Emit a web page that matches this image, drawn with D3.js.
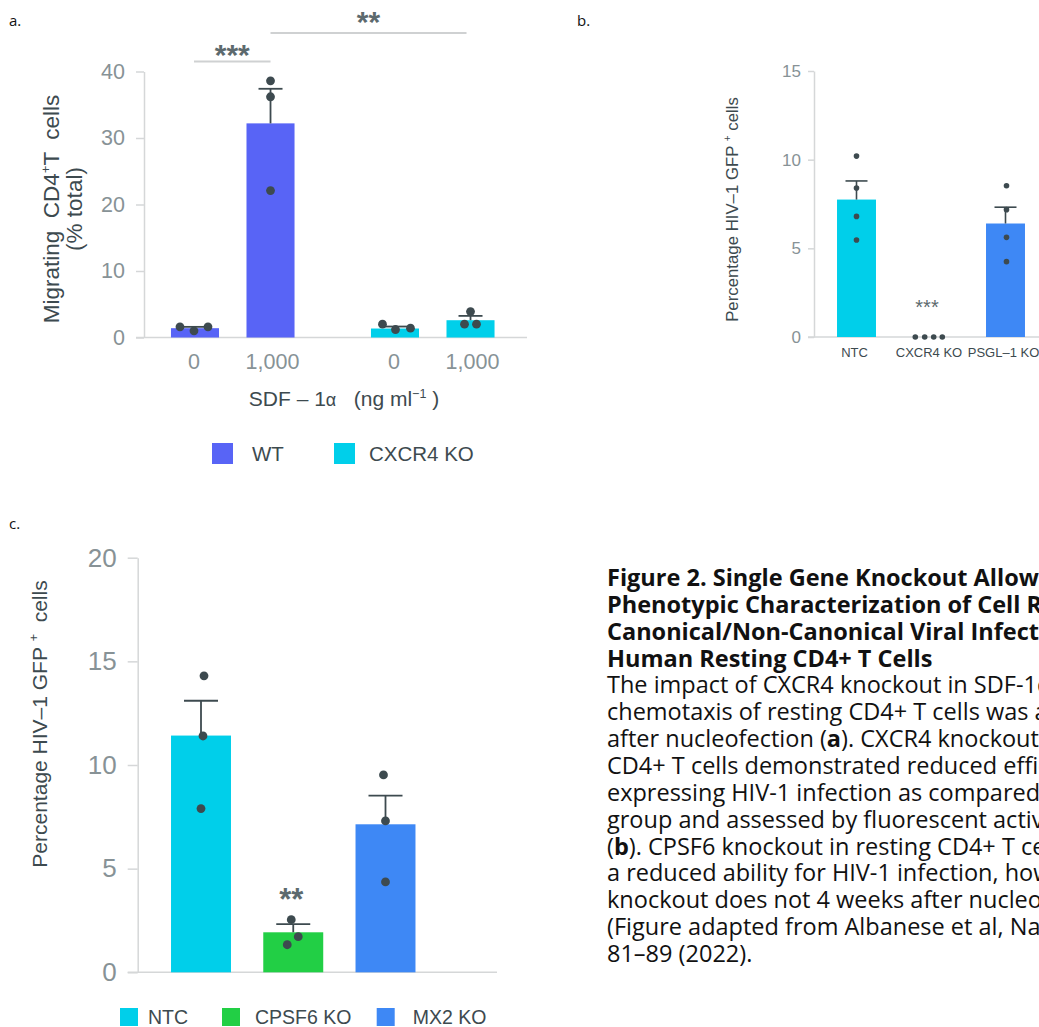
<!DOCTYPE html>
<html><head><meta charset="utf-8">
<script src="https://cdn.jsdelivr.net/npm/d3@7"></script>
<style>
body{margin:0;background:#fff;overflow:hidden;}
svg{display:block;}
text{white-space:pre;}
</style></head><body>
<svg id="chart" width="1039" height="1027"></svg>
<script>
// ---------------- data ----------------
// Panel a: migration assay
const aGenotypes = ["WT", "CXCR4 KO"];
const aDoses = ["0", "1,000"];
const aMeans = [[1.4, 32.2], [1.35, 2.6]];
const aSems = [[0.2, 5.2], [0.3, 0.65]];
const aPoints = [[[1.6, 1.0, 1.6], [38.6, 36.2, 22.1]], [[2.0, 1.2, 1.4], [3.9, 2.0, 2.0]]];
const aTicks = [0, 10, 20, 30, 40];

// Panel b
const bCategories = ["NTC", "CXCR4 KO", "PSGL\u20131 KO"];
const bMeans = [7.75, 0, 6.4];
const bSems = [1.05, 0, 0.92];
const bPoints = [[10.2, 8.4, 6.8, 5.47], [0, 0, 0, 0], [8.53, 7.18, 5.62, 4.25]];
const bTicks = [0, 5, 10, 15];

// Panel c
const cCategories = ["NTC", "CPSF6 KO", "MX2 KO"];
const cMeans = [11.42, 1.93, 7.14];
const cSems = [1.68, 0.39, 1.38];
const cPoints = [[14.3, 11.4, 7.9], [2.54, 1.72, 1.33], [9.52, 7.3, 4.36]];
const cTicks = [0, 5, 10, 15, 20];

// Caption
const captionTitle = [
  "Figure 2. Single Gene Knockout Allows",
  "Phenotypic Characterization of Cell Response to",
  "Canonical/Non-Canonical Viral Infection in",
  "Human Resting CD4+ T Cells"
];
const captionBody = [
  [["The impact of CXCR4 knockout in SDF-1\u03b1-induced", false]],
  [["chemotaxis of resting CD4+ T cells was assessed", false]],
  [["after nucleofection (", false], ["a", true], ["). CXCR4 knockout in resting", false]],
  [["CD4+ T cells demonstrated reduced efficiency of GFP-", false]],
  [["expressing HIV-1 infection as compared to the NTC", false]],
  [["group and assessed by fluorescent activated cell sorting", false]],
  [["(", false], ["b", true], ["). CPSF6 knockout in resting CD4+ T cells shows", false]],
  [["a reduced ability for HIV-1 infection, however MX2", false]],
  [["knockout does not 4 weeks after nucleofection.", false]],
  [["(Figure adapted from Albanese et al, Nature 602,", false]],
  [["81\u201389 (2022).", false]]
];

// ---------------- style / layout ----------------
const FONT = "'Liberation Sans', Arial, Helvetica, sans-serif";
const CAPFONT = "'Open Sans', sans-serif";
const DARK = "#3d4a4f";
const TICKC = "#879296";
const AXISC = "#d5d7d8";
const STARC = "#5d6a6e";
const colWT = "#5864F6", colKO = "#00CFEA", colGreen = "#22CF45", colBlue = "#3E88F5";
const aColors = [colWT, colKO];
const bColors = [colKO, colKO, colBlue];
const cColors = [colKO, colGreen, colBlue];

const aJitter = [[[-15, -1, 13], [0, 0, 0]], [[-12.5, 0.5, 15.5], [0, -6, 6]]];
const bJitter = [[0, 0, 0, 0], [-15.7, -6.3, 2.7, 11.3], [1, 1, 1, 1]];
const cJitter = [[3, 2, 0], [-2, 5, -6], [-2, 0, 0]];

const svg = d3.select("#chart");

function drawYAxis(g, y, ticks, x, tickLen, pad, fs, bx0, bx1) {
  const ax = g.append("g").attr("transform", `translate(${x},0)`)
    .call(d3.axisLeft(y).tickValues(ticks).tickSize(tickLen).tickSizeOuter(0).tickPadding(pad));
  ax.select(".domain").attr("stroke", AXISC).attr("stroke-width", 1.5);
  ax.selectAll(".tick line").attr("stroke", AXISC).attr("stroke-width", 1.5);
  ax.selectAll(".tick text").attr("fill", TICKC).attr("font-size", fs).attr("font-family", FONT);
  g.append("line").attr("x1", bx0).attr("x2", bx1).attr("y1", y(0)).attr("y2", y(0))
    .attr("stroke", AXISC).attr("stroke-width", 1.5);
}

function drawBars(g, items, y, capW, r, strokeW) {
  g.selectAll(null).data(items).join("rect")
    .attr("x", d => d.x).attr("width", d => d.w)
    .attr("y", d => y(d.mean)).attr("height", d => y(0) - y(d.mean))
    .attr("fill", d => d.color);
  const eb = items.filter(d => d.sem > 0);
  g.selectAll(null).data(eb).join("line")
    .attr("x1", d => d.x + d.w / 2).attr("x2", d => d.x + d.w / 2)
    .attr("y1", d => y(d.mean)).attr("y2", d => y(d.mean + d.sem))
    .attr("stroke", DARK).attr("stroke-width", strokeW);
  g.selectAll(null).data(eb).join("line")
    .attr("x1", d => d.x + d.w / 2 - capW / 2).attr("x2", d => d.x + d.w / 2 + capW / 2)
    .attr("y1", d => y(d.mean + d.sem)).attr("y2", d => y(d.mean + d.sem))
    .attr("stroke", DARK).attr("stroke-width", strokeW);
  items.forEach(d => {
    g.selectAll(null).data(d.pts).join("circle")
      .attr("cx", (v, i) => d.x + d.w / 2 + d.jit[i])
      .attr("cy", v => y(v)).attr("r", r).attr("fill", DARK);
  });
}

// ---------------- panel labels ----------------
[["a.", 9, 26], ["b.", 577, 26], ["c.", 9, 529]].forEach(([t, x, y]) =>
  svg.append("text").attr("x", x).attr("y", y).text(t)
    .attr("font-family", CAPFONT).attr("font-size", 15).attr("fill", "#111"));

// ---------------- panel a ----------------
{
  const g = svg.append("g");
  const y = d3.scaleLinear().domain([0, 40]).range([337.5, 71.5]);
  const outer = d3.scaleBand().domain(aGenotypes).range([132.75, 532.75]);
  const inner = d3.scaleBand().domain(aDoses).range([0, outer.bandwidth()]).paddingInner(0.364).paddingOuter(0.506);
  drawYAxis(g, y, aTicks, 144, 8, 11, 21.5, 136, 527);
  const items = [];
  aGenotypes.forEach((gt, gi) => aDoses.forEach((ds, di) => items.push({
    x: outer(gt) + inner(ds), w: inner.bandwidth(), mean: aMeans[gi][di], sem: aSems[gi][di],
    color: aColors[gi], pts: aPoints[gi][di], jit: aJitter[gi][di], dose: ds
  })));
  drawBars(g, items, y, 24, 4.4, 1.8);
  g.selectAll(null).data(items).join("text")
    .attr("x", d => d.x + d.w / 2 + (d.dose === "0" ? -1 : 2)).attr("y", 369)
    .attr("text-anchor", "middle").attr("font-family", FONT).attr("font-size", 21.5)
    .attr("fill", TICKC).text(d => d.dose);
  // x title
  const xt = g.append("text").attr("x", 344).attr("y", 406).attr("text-anchor", "middle")
    .attr("font-family", FONT).attr("font-size", 21).attr("fill", DARK);
  xt.append("tspan").text("SDF \u2013 1");
  xt.append("tspan").attr("font-size", 18).text("\u03b1");
  xt.append("tspan").text("   (ng ml");
  xt.append("tspan").attr("font-size", 12.5).attr("dy", -8).text("\u22121");
  xt.append("tspan").attr("dy", 8).text(" )");
  // y title
  const yt1 = g.append("text").attr("transform", "translate(59,209) rotate(-90)")
    .attr("text-anchor", "middle").attr("font-family", FONT).attr("font-size", 22.5).attr("fill", DARK);
  yt1.append("tspan").text("Migrating  CD4");
  yt1.append("tspan").attr("font-size", 13).attr("dy", -9).text("+");
  yt1.append("tspan").attr("dy", 9).text("T  cells");
  g.append("text").attr("transform", "translate(82,209) rotate(-90)")
    .attr("text-anchor", "middle").attr("font-family", FONT).attr("font-size", 22.5).attr("fill", DARK)
    .text("(% total)");
  // significance
  const cx = (gt, ds) => outer(gt) + inner(ds) + inner.bandwidth() / 2;
  const sig = [
    {x1: cx("WT", "0") - 1, x2: cx("WT", "1,000"), y: 61.5, label: "***", ty: 65},
    {x1: cx("WT", "1,000"), x2: cx("CXCR4 KO", "1,000") - 4, y: 33, label: "**", ty: 32}
  ];
  sig.forEach(s => {
    g.append("line").attr("x1", s.x1).attr("x2", s.x2).attr("y1", s.y).attr("y2", s.y)
      .attr("stroke", "#cfd1d2").attr("stroke-width", 1.8);
    g.append("text").attr("x", (s.x1 + s.x2) / 2).attr("y", s.ty).attr("text-anchor", "middle")
      .attr("font-family", FONT).attr("font-weight", "bold").attr("font-size", 30)
      .attr("fill", STARC).text(s.label);
  });
  // legend
  const leg = [{x: 212, tx: 252}, {x: 334, tx: 369}];
  aGenotypes.forEach((gt, i) => {
    g.append("rect").attr("x", leg[i].x).attr("y", 443).attr("width", 21).attr("height", 21).attr("fill", aColors[i]);
    g.append("text").attr("x", leg[i].tx).attr("y", 461).attr("font-family", FONT)
      .attr("font-size", 20.5).attr("fill", DARK).text(gt);
  });
}

// ---------------- panel b ----------------
{
  const g = svg.append("g");
  const y = d3.scaleLinear().domain([0, 15]).range([337, 71]);
  const x = d3.scaleBand().domain(bCategories).range([819.25, 1042.75]).paddingInner(0.477).paddingOuter(0.2385);
  drawYAxis(g, y, bTicks, 814, 6, 7, 17, 808, 1050);
  const items = bCategories.map((c, i) => ({
    x: x(c), w: x.bandwidth(), mean: bMeans[i], sem: bSems[i], color: bColors[i], pts: bPoints[i], jit: bJitter[i], cat: c
  }));
  drawBars(g, items, y, 22, 2.8, 1.6);
  g.selectAll(null).data(items).join("text")
    .attr("x", d => d.x + d.w / 2 - 2).attr("y", 356.5).attr("text-anchor", "middle")
    .attr("font-family", FONT).attr("font-size", 13).attr("fill", DARK).text(d => d.cat);
  g.append("text").attr("x", x("CXCR4 KO") + x.bandwidth() / 2 - 4).attr("y", 314).attr("text-anchor", "middle")
    .attr("font-family", FONT).attr("font-size", 20).attr("fill", STARC).text("***");
  const yt = g.append("text").attr("transform", "translate(738,209.5) rotate(-90)")
    .attr("text-anchor", "middle").attr("font-family", FONT).attr("font-size", 16.8).attr("fill", DARK);
  yt.append("tspan").text("Percentage HIV\u20131 GFP ");
  yt.append("tspan").attr("font-size", 10).attr("dy", -7).text("+");
  yt.append("tspan").attr("dy", 7).text(" cells");
}

// ---------------- panel c ----------------
{
  const g = svg.append("g");
  const y = d3.scaleLinear().domain([0, 20]).range([972.3, 557.7]);
  const x = d3.scaleBand().domain(cCategories).range([154.875, 431.625]).paddingInner(0.35).paddingOuter(0.175);
  drawYAxis(g, y, cTicks, 137.7, 10, 11, 26, 127.7, 497);
  const items = cCategories.map((c, i) => ({
    x: x(c), w: x.bandwidth(), mean: cMeans[i], sem: cSems[i], color: cColors[i], pts: cPoints[i], jit: cJitter[i], cat: c
  }));
  drawBars(g, items, y, 34, 4.4, 1.8);
  g.append("text").attr("x", x("CPSF6 KO") + x.bandwidth() / 2 - 2).attr("y", 910).attr("text-anchor", "middle")
    .attr("font-family", FONT).attr("font-weight", "bold").attr("font-size", 31).attr("fill", STARC).text("**");
  const yt = g.append("text").attr("transform", "translate(47,724) rotate(-90)")
    .attr("text-anchor", "middle").attr("font-family", FONT).attr("font-size", 21).attr("fill", DARK);
  yt.append("tspan").text("Percentage HIV\u20131 GFP ");
  yt.append("tspan").attr("font-size", 13).attr("dy", -9).text("+");
  yt.append("tspan").attr("dy", 9).text("  cells");
  const leg = [{x: 120, tx: 148}, {x: 222, tx: 255}, {x: 376.7, tx: 412.7}];
  cCategories.forEach((c, i) => {
    g.append("rect").attr("x", leg[i].x).attr("y", 1008).attr("width", 18).attr("height", 18).attr("fill", cColors[i]);
    g.append("text").attr("x", leg[i].tx).attr("y", 1024).attr("font-family", FONT)
      .attr("font-size", 19.5).attr("fill", DARK).text(c);
  });
}

// ---------------- caption ----------------
{
  const g = svg.append("g");
  const x0 = 607, y0 = 586, lh = 26.85;
  captionTitle.forEach((t, i) => g.append("text").attr("x", x0).attr("y", y0 + i * lh)
    .attr("font-family", CAPFONT).attr("font-weight", "bold").attr("font-size", 23.5).attr("fill", "#111").text(t));
  captionBody.forEach((segs, i) => {
    const t = g.append("text").attr("x", x0).attr("y", y0 + (captionTitle.length + i) * lh)
      .attr("font-family", CAPFONT).attr("font-size", 23.5).attr("fill", "#111");
    segs.forEach(([s, b]) => t.append("tspan").attr("font-weight", b ? "bold" : "normal").text(s));
  });
}
</script>
</body></html>
